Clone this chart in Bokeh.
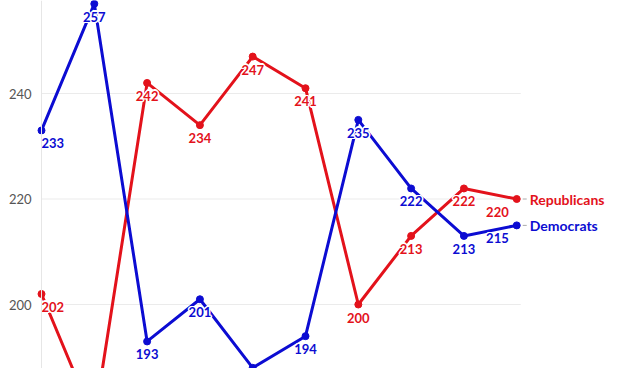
from bokeh.plotting import figure
from bokeh.models import ColumnDataSource, Range1d, Span
from bokeh.core.properties import value
from bokeh.embed import file_html
from bokeh.resources import INLINE

years = [2006, 2008, 2010, 2012, 2014, 2016, 2018, 2020, 2022, 2024]
democrats = [233, 257, 193, 201, 188, 194, 235, 222, 213, 215]
republicans = [202, 178, 242, 234, 247, 241, 200, 213, 222, 220]
y_ticks = [200, 220, 240]
series_names = ["Republicans", "Democrats"]

RED = "#e3121b"
BLUE = "#0c0cd2"
FONT = value("Lato")
PX = 1 / 26.4  # one pixel in years

p = figure(width=625, height=368, output_backend="svg", toolbar_location=None,
           x_range=Range1d(2004.447, 2028.12), y_range=Range1d(187.87, 257.63),
           min_border=0, min_border_left=0, min_border_right=0,
           min_border_top=0, min_border_bottom=0)
p.axis.visible = False
p.grid.visible = False
p.outline_line_color = None

# gridlines spanning the data range
p.segment(x0=[years[0]] * len(y_ticks), x1=[years[-1] + 4 * PX] * len(y_ticks),
          y0=y_ticks, y1=y_ticks, line_color="#ebebeb", line_width=1)
p.add_layout(Span(location=years[0], dimension="height", line_color="#e6e6e6", line_width=1))

# y tick labels
p.text(x=[years[0]] * len(y_ticks), y=y_ticks, text=[str(t) for t in y_ticks],
       x_offset=-10, text_align="right", text_baseline="middle",
       text_font=FONT, text_font_size="13px", text_color="#555555")

for vals, col in ((republicans, RED), (democrats, BLUE)):
    p.line(years, vals, line_color=col, line_width=3)
    p.scatter(years, vals, size=7, fill_color=col, line_color=col)

HALO = [(-1.5, 0), (1.5, 0), (0, -1.5), (0, 1.5), (-1, -1), (1, 1), (-1, 1), (1, -1)]

def labels(vals, col):
    n = len(vals)
    aligns = ["left"] + ["center"] * (n - 2) + ["right"]
    base_xo = [0] + [0] * (n - 2) + [-8]
    for dx, dy in HALO + [(0, 0)]:
        src = ColumnDataSource(dict(x=years, y=vals, t=[str(v) for v in vals],
                                    align=aligns, xo=[b + dx for b in base_xo]))
        p.text(x="x", y="y", text="t", source=src, text_align="align", x_offset="xo",
               y_offset=13 + dy, text_baseline="middle", text_font=FONT,
               text_font_size="13px", text_font_style="bold",
               text_color=col if (dx, dy) == (0, 0) else "white")

labels(republicans, RED)
labels(democrats, BLUE)

# end labels with short connector dash
ends = [republicans[-1], democrats[-1]]
p.segment(x0=[years[-1] + 6 * PX] * 2, x1=[years[-1] + 10 * PX] * 2, y0=ends, y1=ends,
          line_color="#aaaaaa", line_width=1)
end_src = ColumnDataSource(dict(x=[years[-1]] * 2, y=ends, t=series_names, c=[RED, BLUE]))
p.text(x="x", y="y", text="t", source=end_src, x_offset=13, text_align="left",
       text_baseline="middle", text_font=FONT, text_font_size="14px",
       text_font_style="bold", text_color="c")

open("out.html", "w").write(file_html(p, INLINE))
